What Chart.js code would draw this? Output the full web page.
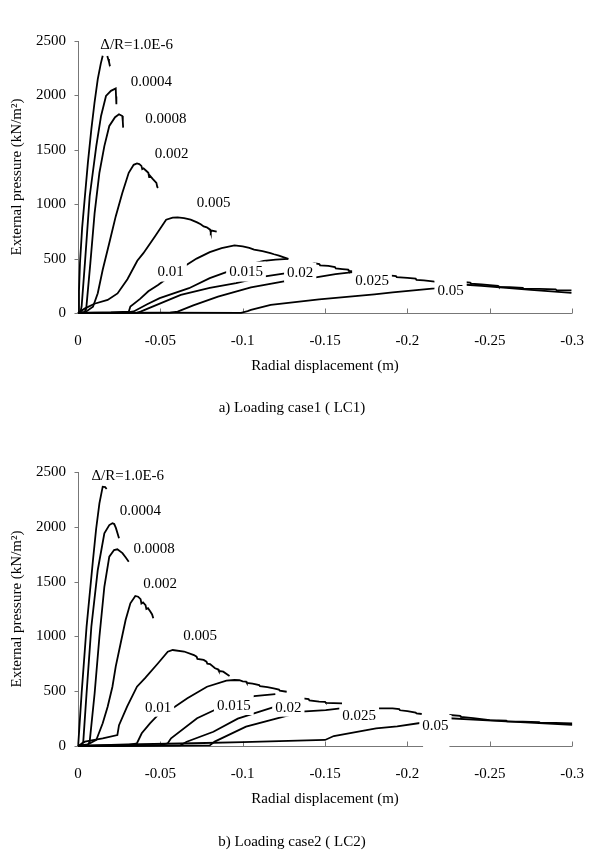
<!DOCTYPE html>
<html>
<head>
<meta charset="utf-8">
<script src="https://cdn.jsdelivr.net/npm/chart.js@4.4.0/dist/chart.umd.min.js"></script>
<style>
  html, body { margin: 0; padding: 0; background: #fff; }
  .panel { position: relative; width: 603px; }
  canvas { display: block; }
</style>
</head>
<body>
<div class="panel" style="height:430px"><canvas id="lc1"></canvas></div>
<div class="panel" style="height:421px"><canvas id="lc2"></canvas></div>
<script>
const xTicks = [0, -0.05, -0.1, -0.15, -0.2, -0.25, -0.3];
const yTicks = [0, 500, 1000, 1500, 2000, 2500];
const curveNames = ['\u0394/R=1.0E-6', '0.0004', '0.0008', '0.002', '0.005', '0.01', '0.015', '0.02', '0.025', '0.05'];

// LC1 curves: [radial displacement (m), pressure (kN/m2)], null = gap
const a1 = [[0,0],[-0.0006,200],[-0.0012,458],[-0.0025,780],[-0.0042,1073],[-0.006,1380],[-0.0081,1688],[-0.010,1930],[-0.012,2149],[-0.0138,2290],[-0.015,2365],[-0.0165,null],[-0.0178,2362],[-0.0183,2335],[-0.0188,2310],[-0.0194,2268]];
const a2 = [[0,0],[-0.0015,10],[-0.0022,60],[-0.0042,458],[-0.0071,1073],[-0.0111,1534],[-0.014,1811],[-0.017,1995],[-0.02,2042],[-0.0229,2064],[-0.0231,1990],[-0.0233,1919]];
const a3 = [[0,0],[-0.004,10],[-0.005,40],[-0.0075,458],[-0.0101,921],[-0.013,1289],[-0.016,1534],[-0.019,1719],[-0.0225,1800],[-0.0249,1827],[-0.0269,1811],[-0.0272,1760],[-0.0274,1704]];
const a4 = [[0,0],[-0.0042,5],[-0.0091,58],[-0.012,182],[-0.015,397],[-0.019,643],[-0.0229,888],[-0.0269,1104],[-0.0308,1289],[-0.0338,1362],[-0.0358,1375],[-0.0372,1368],[-0.0385,1352],[-0.039,1322],[-0.0398,1330],[-0.0412,1310],[-0.0427,1289],[-0.0432,1250],[-0.0437,1262],[-0.0452,1235],[-0.0466,1212],[-0.0476,1196],[-0.0481,1160],[-0.0486,1150]];
const a5 = [[0,0],[-0.004,40],[-0.01,85],[-0.018,120],[-0.024,180],[-0.030,310],[-0.036,480],[-0.0397,550],[-0.0467,704],[-0.0535,858],[-0.0575,876],[-0.0605,879],[-0.0644,872],[-0.0684,858],[-0.0723,833],[-0.0745,815],[-0.0763,796],[-0.0782,788],[-0.0802,766],[-0.0806,742],[-0.0812,758],[-0.0842,748]];
const a6 = [[0,0],[-0.02,5],[-0.0308,12],[-0.0318,60],[-0.0377,130],[-0.0427,200],[-0.0486,258],[-0.056,340],[-0.0644,427],[-0.072,500],[-0.080,560],[-0.0872,597],[-0.095,621],[-0.1,612],[-0.104,598],[-0.1069,582],[-0.112,568],[-0.1168,551],[-0.119,540],[-0.122,528],[-0.125,512],[-0.1277,498]];
const a7 = [[0,0],[-0.03,6],[-0.0338,14],[-0.042,80],[-0.0496,136],[-0.0674,228],[-0.08,320],[-0.093,392],[-0.1,430],[-0.1128,480],[-0.12,490],[-0.1277,498]];
const a8 = [[0,0],[-0.036,4],[-0.038,12],[-0.0427,43],[-0.0624,166],[-0.08,232],[-0.096,274],[-0.1126,335],[-0.1267,366],[-0.1435,457],[-0.1465,450],[-0.147,438],[-0.152,434],[-0.156,422],[-0.1565,410],[-0.1605,404],[-0.164,398],[-0.1645,386],[-0.1682,380]];
const a9 = [[0,0],[-0.056,4],[-0.0605,12],[-0.07,70],[-0.085,150],[-0.105,235],[-0.13,305],[-0.1435,326],[-0.1563,357],[-0.1682,378],[-0.189,346],[-0.193,340],[-0.1935,330],[-0.2,322],[-0.205,315],[-0.2055,305],[-0.21,300],[-0.2166,289],[-0.2334,285],[-0.238,280],[-0.2385,270],[-0.245,262],[-0.25,256],[-0.255,250],[-0.2555,240],[-0.262,238],[-0.27,232],[-0.2705,224],[-0.28,222],[-0.29,217],[-0.2905,210],[-0.2996,208]];
const a10 = [[0,0],[-0.05,3],[-0.099,2],[-0.103,18],[-0.105,28],[-0.117,74],[-0.1464,126],[-0.18,172],[-0.191,190],[-0.2166,226],[-0.2334,262],[-0.245,250],[-0.26,232],[-0.275,212],[-0.2996,185]];

// LC2 curves
const b1 = [[0,0],[-0.0002,25],[-0.0022,481],[-0.0052,1088],[-0.0091,1697],[-0.011,1980],[-0.013,2214],[-0.015,2366],[-0.0165,2362],[-0.0174,2345]];
const b2 = [[0,0],[-0.002,10],[-0.0032,40],[-0.0052,481],[-0.0081,1088],[-0.012,1606],[-0.016,1941],[-0.019,2016],[-0.0209,2032],[-0.022,2025],[-0.023,1990],[-0.0249,1895]];
const b3 = [[0,0],[-0.006,10],[-0.0071,40],[-0.0101,481],[-0.013,997],[-0.016,1453],[-0.019,1727],[-0.0219,1788],[-0.0239,1795],[-0.027,1760],[-0.029,1720],[-0.0308,1682]];
const b4 = [[0,0],[-0.006,15],[-0.0111,55],[-0.015,207],[-0.018,359],[-0.0209,541],[-0.0229,724],[-0.0259,937],[-0.0289,1150],[-0.0318,1302],[-0.0348,1369],[-0.0365,1362],[-0.038,1340],[-0.0385,1300],[-0.0395,1310],[-0.041,1285],[-0.0415,1250],[-0.0425,1258],[-0.044,1225],[-0.045,1200],[-0.0457,1165]];
const b5 = [[0,0],[-0.0042,39],[-0.015,70],[-0.0239,100],[-0.0249,190],[-0.0298,359],[-0.0358,541],[-0.0407,620],[-0.0486,755],[-0.0545,860],[-0.0575,876],[-0.0644,862],[-0.0704,830],[-0.072,815],[-0.0725,795],[-0.0763,785],[-0.078,770],[-0.0785,752],[-0.0802,748],[-0.0832,709],[-0.085,700],[-0.0855,685],[-0.0882,678],[-0.09,660],[-0.092,639]];
const b6 = [[0,0],[-0.03,8],[-0.0358,25],[-0.0387,116],[-0.0437,207],[-0.0486,283],[-0.0575,344],[-0.0664,435],[-0.0783,541],[-0.0901,596],[-0.095,602],[-0.098,600],[-0.1,590],[-0.102,588],[-0.1025,575],[-0.106,570],[-0.11,556],[-0.1105,545],[-0.115,538],[-0.1188,526],[-0.122,515],[-0.1225,505],[-0.1267,495]];
const b7 = [[0,0],[-0.05,8],[-0.0545,25],[-0.0565,70],[-0.0723,253],[-0.0852,344],[-0.095,400],[-0.1069,456],[-0.1198,474]];
const b8 = [[0,0],[-0.062,5],[-0.066,39],[-0.0822,130],[-0.097,250],[-0.1069,298],[-0.1198,359],[-0.1366,435],[-0.14,428],[-0.1405,416],[-0.1464,404],[-0.15,402],[-0.1505,394],[-0.1603,389]];
const b9 = [[0,0],[-0.08,5],[-0.083,40],[-0.102,176],[-0.1306,290],[-0.1356,313],[-0.1504,328],[-0.1593,344],[-0.191,344],[-0.195,336],[-0.1955,326],[-0.2,318],[-0.205,305],[-0.2055,298],[-0.2087,292],[-0.215,null],[-0.2255,283],[-0.232,275],[-0.2325,265],[-0.24,255],[-0.25,237],[-0.26,232],[-0.2605,224],[-0.27,222],[-0.28,217],[-0.2805,212],[-0.29,210],[-0.3,207]];
const b10 = [[0,0],[-0.03,15],[-0.07,25],[-0.1,35],[-0.15,55],[-0.1553,91],[-0.181,161],[-0.1938,180],[-0.2087,212],[-0.215,null],[-0.2255,253],[-0.24,240],[-0.26,225],[-0.28,208],[-0.3,192]];

// where the curve names sit (data units)
const lc1LabelX = [-0.0356, -0.0445, -0.0534, -0.0569, -0.0824, -0.0563, -0.102, -0.1349, -0.1785, -0.2262];
const lc1LabelY = [2472, 2134, 1796, 1473, 1017, 381, 381, 372, 304, 212];
const lc2LabelX = [-0.0302, -0.0378, -0.0462, -0.0498, -0.0741, -0.0486, -0.0946, -0.1277, -0.1707, -0.217];
const lc2LabelY = [2473, 2153, 1804, 1484, 1013, 359, 374, 359, 283, 192];

// LC2 x axis is cut between these two values
const lc2Break = [-0.2095, -0.2255];

Chart.defaults.font.family = '"Liberation Serif", "Times New Roman", serif';
Chart.defaults.color = '#000';

const toPts = arr => arr.map(([x, y]) => ({ x, y }));

// axis lines + tick marks drawn by hand so the LC2 axis can be broken
const frame = xBreak => ({
  id: 'frame',
  beforeDatasetsDraw(chart) {
    const { ctx, chartArea: a, scales: { x, y } } = chart;
    ctx.save();
    ctx.strokeStyle = '#777';
    ctx.lineWidth = 1;
    ctx.beginPath();
    const lx = Math.round(a.left) + 0.5;
    ctx.moveTo(lx, a.top); ctx.lineTo(lx, a.bottom);
    yTicks.forEach(v => {
      const py = Math.round(y.getPixelForValue(v)) + 0.5;
      ctx.moveTo(lx - 4, py); ctx.lineTo(lx, py);
    });
    const by = Math.round(a.bottom) + 0.5;
    if (xBreak) {
      ctx.moveTo(a.left, by); ctx.lineTo(x.getPixelForValue(xBreak[0]), by);
      ctx.moveTo(x.getPixelForValue(xBreak[1]), by); ctx.lineTo(a.right, by);
    } else {
      ctx.moveTo(a.left, by); ctx.lineTo(a.right, by);
    }
    xTicks.forEach(v => {
      const px = Math.round(x.getPixelForValue(v)) + 0.5;
      ctx.moveTo(px, by); ctx.lineTo(px, by - 5);
    });
    ctx.stroke();
    ctx.restore();
  }
});

// curve names in white boxes, like the spreadsheet text boxes
const curveText = (xs, ys) => ({
  id: 'curveText',
  afterDatasetsDraw(chart) {
    const { ctx, scales: { x, y } } = chart;
    ctx.save();
    ctx.font = '15px "Liberation Serif"';
    ctx.textAlign = 'center';
    ctx.textBaseline = 'middle';
    curveNames.forEach((t, i) => {
      const px = x.getPixelForValue(xs[i]);
      const py = y.getPixelForValue(ys[i]);
      const w = ctx.measureText(t).width + 6;
      ctx.fillStyle = '#fff';
      ctx.fillRect(px - w / 2, py - 10, w, 20);
      ctx.fillStyle = '#000';
      ctx.fillText(t, px, py + 1);
    });
    ctx.restore();
  }
});

const fmtX = v => (v === 0 ? '0' : String(+v.toFixed(2)));
const fmtY = v => String(v);

function buildChart(id, series, labelX, labelY, caption, lay, xBreak) {
  return new Chart(document.getElementById(id), {
    type: 'line',
    data: {
      datasets: series.map((s, i) => ({
        label: curveNames[i],
        data: toPts(s),
        borderColor: '#000',
        borderWidth: 1.8,
        pointRadius: 0,
        tension: 0,
        spanGaps: false,
        clip: false
      }))
    },
    options: {
      responsive: true,
      maintainAspectRatio: false,
      animation: false,
      layout: { padding: { top: lay.top, right: 19, bottom: lay.bottom, left: 0 } },
      plugins: {
        legend: { display: false },
        tooltip: { enabled: false },
        title: {
          display: true,
          position: 'bottom',
          text: caption,
          color: '#000',
          font: { size: 15, weight: 'normal' },
          padding: { top: lay.cap, bottom: 0 }
        }
      },
      scales: {
        x: {
          type: 'linear',
          reverse: true,
          min: -0.3,
          max: 0,
          afterBuildTicks: s => { s.ticks = xTicks.map(value => ({ value })); },
          afterFit: s => { s.height = 62; },
          grid: { display: false, drawTicks: false },
          border: { display: false },
          ticks: { font: { size: 15 }, padding: 19, maxRotation: 0, autoSkip: false, callback: fmtX },
          title: { display: true, text: 'Radial displacement (m)', font: { size: 15 }, padding: { top: 0, bottom: 0 } }
        },
        y: {
          min: 0,
          max: 2500,
          afterBuildTicks: s => { s.ticks = yTicks.map(value => ({ value })); },
          afterFit: s => { s.width = 78; },
          grid: { display: false, drawTicks: false },
          border: { display: false },
          ticks: { font: { size: 15 }, padding: 12, callback: fmtY },
          title: { display: true, text: 'External pressure (kN/m\u00B2)', font: { size: 15 }, padding: { top: 8, bottom: 0 } }
        }
      }
    },
    plugins: [frame(xBreak), curveText(labelX, labelY)]
  });
}

buildChart('lc1', [a1, a2, a3, a4, a5, a6, a7, a8, a9, a10], lc1LabelX, lc1LabelY,
  'a) Loading case1 ( LC1)', { top: 41, bottom: 13, cap: 24 }, null);
buildChart('lc2', [b1, b2, b3, b4, b5, b6, b7, b8, b9, b10], lc2LabelX, lc2LabelY,
  'b) Loading case2 ( LC2)', { top: 42, bottom: 0, cap: 25 }, lc2Break);
</script>
</body>
</html>
